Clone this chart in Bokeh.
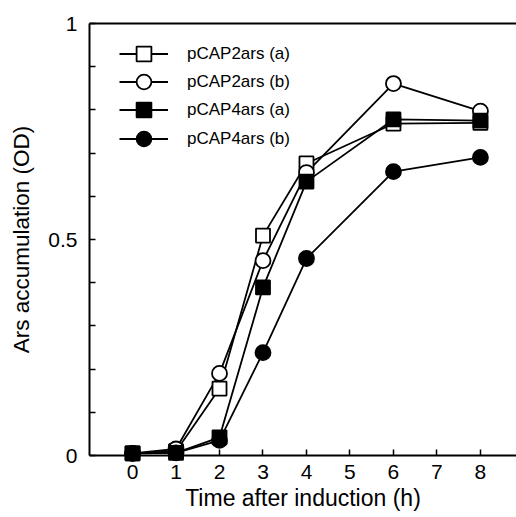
from bokeh.plotting import figure
from bokeh.models import (Range1d, FixedTicker, LinearAxis, Legend, LegendItem)
from bokeh.embed import file_html
from bokeh.resources import INLINE

time_h = [0, 1, 2, 3, 4, 6, 8]
cap2a = [0.005, 0.01, 0.155, 0.509, 0.676, 0.768, 0.77]
cap2b = [0.005, 0.015, 0.19, 0.451, 0.655, 0.861, 0.797]
cap4a = [0.005, 0.006, 0.042, 0.389, 0.634, 0.778, 0.775]
cap4b = [0.005, 0.006, 0.035, 0.238, 0.456, 0.657, 0.69]
labels = ["pCAP2ars (a)", "pCAP2ars (b)", "pCAP4ars (a)", "pCAP4ars (b)"]
x_ticks = [0, 1, 2, 3, 4, 5, 6, 7, 8]
y_major = [0, 0.5, 1]
y_minor = [0.1, 0.2, 0.3, 0.4, 0.6, 0.7, 0.8, 0.9]

FONT = "Liberation Sans"

p = figure(width=516, height=517, output_backend="svg", toolbar_location=None,
           x_range=Range1d(-0.99, 8.83), y_range=Range1d(0.0, 1.0),
           min_border_left=89, min_border_right=0, min_border_top=23,
           min_border_bottom=62)
p.outline_line_color = None
p.xgrid.visible = False
p.ygrid.visible = False
p.background_fill_color = "white"
p.border_fill_color = "white"

# x axis
xa = p.xaxis[0]
xa.ticker = FixedTicker(ticks=x_ticks, minor_ticks=[])
xa.axis_label = "Time after induction (h)"
xa.axis_label_text_font = FONT
xa.axis_label_text_font_style = "normal"
xa.axis_label_text_font_size = "23px"
xa.axis_label_standoff = 3
xa.major_label_text_font = FONT
xa.major_label_text_font_size = "21px"
xa.major_label_standoff = 9
xa.major_tick_in = 6
xa.major_tick_out = 0
xa.major_tick_line_width = 1.5
xa.axis_line_width = 2
xa.axis_line_color = "black"
xa.major_tick_line_color = "black"
xa.major_label_text_color = "black"
xa.axis_label_text_color = "black"

# y axis
ya = p.yaxis[0]
ya.ticker = FixedTicker(ticks=y_major, minor_ticks=y_minor)
ya.axis_label = "Ars accumulation (OD)"
ya.axis_label_text_font = FONT
ya.axis_label_text_font_style = "normal"
ya.axis_label_text_font_size = "22.5px"
ya.axis_label_standoff = 11
ya.major_label_text_font = FONT
ya.major_label_text_font_size = "21px"
ya.major_label_standoff = 12
ya.major_label_overrides = {0: "0", 0.5: "0.5", 1: "1"}
ya.major_tick_in = 6
ya.major_tick_out = 0
ya.minor_tick_in = 6
ya.minor_tick_out = 0
ya.major_tick_line_width = 1.5
ya.minor_tick_line_width = 1.5
ya.axis_line_width = 2
ya.axis_line_color = "black"
ya.major_label_text_color = "black"
ya.axis_label_text_color = "black"

# top border line
top = LinearAxis(ticker=FixedTicker(ticks=x_ticks, minor_ticks=[]),
                 major_label_overrides={t: "" for t in x_ticks},
                 major_label_text_alpha=0,
                 major_tick_line_color=None, minor_tick_line_color=None,
                 axis_line_width=2, axis_line_color="black")
p.add_layout(top, "above")

series = [cap2a, cap2b, cap4a, cap4b]
markers = ["square", "circle", "square", "circle"]
fills = ["white", "white", "black", "black"]
sizes = [14, 15, 14, 15]

line_rs = []
for ys in series:
    line_rs.append(p.line(time_h, ys, line_color="black", line_width=1.8))

mark_rs = []
for ys, m, f, s in zip(series, markers, fills, sizes):
    mark_rs.append(p.scatter(time_h, ys, marker=m, size=s, fill_color=f,
                             line_color="black", line_width=1.8, level="overlay"))

legend_bottoms = [383, 355, 327, 298]
for lab, lr, mr, yb in zip(labels, line_rs, mark_rs, legend_bottoms):
    lg = Legend(items=[LegendItem(label=lab, renderers=[lr, mr])],
                location=(30, yb), glyph_width=49, glyph_height=37,
                spacing=0, padding=0, margin=0, label_standoff=19,
                label_text_font=FONT, label_text_font_size="17px",
                label_text_color="black",
                background_fill_alpha=0, border_line_color=None)
    p.add_layout(lg, "center")

open("out.html", "w").write(file_html(p, INLINE))
